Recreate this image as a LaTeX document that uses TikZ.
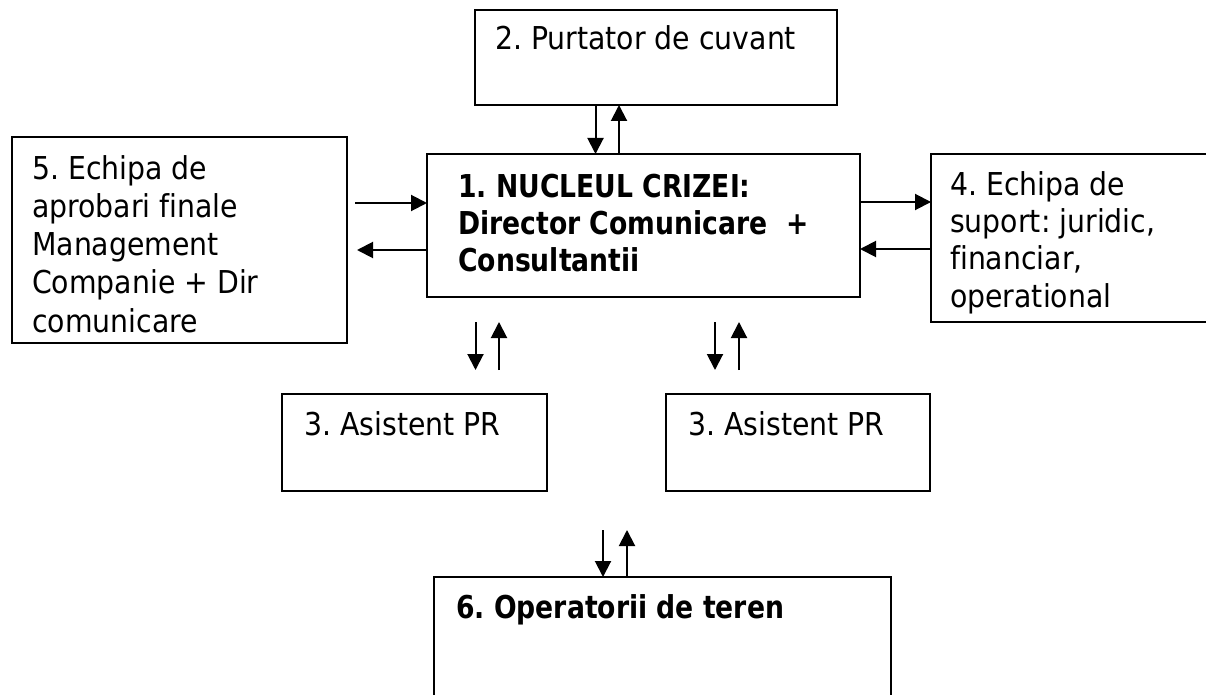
\documentclass[tikz,border=0pt]{standalone}
\usepackage{fontspec}
\setmainfont[Ligatures=NoCommon]{DejaVu Sans Condensed}
\newfontfamily\bfcond[Ligatures=NoCommon,FakeStretch=0.94]{DejaVu Sans Condensed}
\usetikzlibrary{arrows.meta}
\frenchspacing
\begin{document}
\begin{tikzpicture}[x=1pt,y=-1pt,
  box/.style={draw=black,line width=2pt,inner sep=0pt,outer sep=0pt},
  lbl/.style={anchor=base west,inner sep=0pt,font=\fontsize{31.5}{38}\selectfont},
  blbl/.style={lbl,font=\fontsize{31.5}{38}\selectfont\bfcond\bfseries},
  arr/.style={line width=2pt,-{Triangle[length=16pt,width=16pt]}}]
\useasboundingbox (0,0) rectangle (1206,695);
% boxes
\node[box,minimum width=362pt,minimum height=95pt] (n2) at (656,57.5) {};
\node[box,minimum width=433pt,minimum height=143pt] (n1) at (643.5,225.5) {};
\node[box,minimum width=335pt,minimum height=206pt] (n5) at (179.5,240) {};
\node[box,minimum width=284pt,minimum height=168pt] (n4) at (1073,238) {};
\node[box,minimum width=265pt,minimum height=97pt] (n3a) at (414.5,442.5) {};
\node[box,minimum width=264pt,minimum height=97pt] (n3b) at (798,442.5) {};
\node[box,minimum width=457pt,minimum height=128pt] (n6) at (662.5,641) {};
% texts
\node[lbl] (t2) at (495,50) {2. Purtator de cuvant};
\node[blbl] (t1a) at (458,197) {1. NUCLEUL CRIZEI:};
\node[blbl] (t1b) at (458,234) {Director Comunicare~~+};
\node[blbl] (t1c) at (458,271) {Consultantii};
\node[lbl] (t5a) at (32,179) {5. Echipa de};
\node[lbl] (t5b) at (32,217) {aprobari finale};
\node[lbl] (t5c) at (32,255) {Management};
\node[lbl] (t5d) at (32,293) {Companie + Dir};
\node[lbl] (t5e) at (32,332) {comunicare};
\node[lbl] (t4a) at (950,195) {4. Echipa de};
\node[lbl] (t4b) at (950,232) {suport: juridic,};
\node[lbl] (t4c) at (950,269) {financiar,};
\node[lbl] (t4d) at (950,307) {operational};
\node[lbl] (t3a) at (304,435) {3. Asistent PR};
\node[lbl] (t3b) at (688,435) {3. Asistent PR};
\node[blbl] (t6) at (456,618) {6. Operatorii de teren};
% helper coordinates
\coordinate (x596) at (595.5,0);
\coordinate (x619) at (619,0);
\coordinate (y203) at (0,203);
\coordinate (y250) at (0,250);
\coordinate (y202) at (0,202);
\coordinate (y249) at (0,249);
\coordinate (l1s) at (355,203);
\coordinate (l2e) at (357,250);
\coordinate (da1) at (475.5,322);
\coordinate (da2) at (475.5,370);
\coordinate (ua1) at (499,370);
\coordinate (ua2) at (499,322);
\coordinate (db1) at (715,322);
\coordinate (db2) at (715,370);
\coordinate (ub1) at (739,370);
\coordinate (ub2) at (739,322);
\coordinate (dc1) at (603,530);
\coordinate (uc2) at (627,530);
% connectors
\draw[arr] (n2.south -| x596) -- (n1.north -| x596);
\draw[arr] (n1.north -| x619) -- (n2.south -| x619);
\draw[arr] (l1s) -- (n1.west |- y203);
\draw[arr] (n1.west |- y250) -- (l2e);
\draw[arr] (n1.east |- y202) -- (n4.west |- y202);
\draw[arr] (n4.west |- y249) -- (n1.east |- y249);
\draw[arr] (da1) -- (da2);
\draw[arr] (ua1) -- (ua2);
\draw[arr] (db1) -- (db2);
\draw[arr] (ub1) -- (ub2);
\draw[arr] (dc1) -- (n6.north -| dc1);
\draw[arr] (n6.north -| uc2) -- (uc2);
\end{tikzpicture}
\end{document}
